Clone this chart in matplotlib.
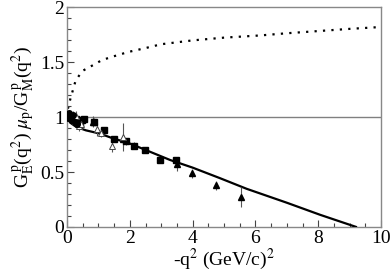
import matplotlib
matplotlib.use("Agg")
import matplotlib.pyplot as plt
import numpy as np
from matplotlib.ticker import MultipleLocator

plt.rcParams['font.family'] = ['Liberation Serif', 'DejaVu Serif']
plt.rcParams['mathtext.fontset'] = 'stix'

# model curves
fit_q2 = [0.0, 0.1, 0.3, 0.6, 1.05, 1.43, 2.0, 3.28, 4.0, 4.87, 5.72, 7.0, 8.06, 9.2]
fit_r = [1.0, 0.95, 0.91, 0.88, 0.85, 0.81, 0.76, 0.61, 0.54, 0.444, 0.347, 0.22, 0.11, 0.0]

dot_q2 = [0.0, 0.03, 0.1, 0.27, 0.48, 0.8, 1.11, 1.43, 1.96, 2.5, 3.0, 4.0, 5.0, 6.15, 7.0, 8.0, 9.0, 10.0]
dot_r = [1.0, 1.08, 1.16, 1.33, 1.42, 1.47, 1.52, 1.55, 1.595, 1.63, 1.665, 1.70, 1.725, 1.745, 1.765, 1.785, 1.805, 1.822]

# data sets
sq_q2 = [0.3, 0.4, 0.48, 0.55, 0.85, 1.18, 1.5, 1.88, 2.13, 2.47, 2.97, 3.47]
sq_r = [0.98, 0.95, 0.97, 0.98, 0.96, 0.88, 0.80, 0.78, 0.74, 0.70, 0.61, 0.61]
sq_err = [0.03, 0.03, 0.03, 0.02, 0.03, 0.03, 0.03, 0.03, 0.03, 0.02, 0.03, 0.03]

tri_q2 = [0.82, 1.77, 3.5, 3.97, 4.75, 5.54]
tri_r = [0.96, 0.80, 0.57, 0.49, 0.38, 0.27]
tri_err = [0.05, 0.05, 0.06, 0.04, 0.04, 0.09]

otri_q2 = [0.2, 0.3, 0.38, 0.45, 0.95, 1.07, 1.42, 1.77]
otri_r = [0.99, 1.01, 0.92, 0.94, 0.89, 0.86, 0.74, 0.82]
otri_err = [0.04, 0.05, 0.05, 0.04, 0.06, 0.04, 0.06, 0.13]

circ_q2 = [0.02, 0.05, 0.1, 0.15, 0.2, 0.25, 0.33]
circ_r = [0.99, 1.04, 1.0, 0.97, 1.02, 0.96, 0.94]
circ_err = [0.02, 0.02, 0.03, 0.03, 0.04, 0.04, 0.04]

fig = plt.figure(figsize=(3.92, 2.77), dpi=100)
ax = fig.add_axes([0.171, 0.181, 0.801, 0.792])

ax.axhline(1.0, color='#808080', lw=1.0, zorder=1)
ax.plot(dot_q2, dot_r, color='black', lw=1.6, linestyle=(0, (1, 2.8)), dash_capstyle='butt')
ax.plot(fit_q2, fit_r, color='black', lw=1.6, zorder=3)

ebkw = dict(ecolor='#555555', elinewidth=0.8, capsize=0, linestyle='none', zorder=4)
ax.errorbar(sq_q2, sq_r, yerr=sq_err, marker='s', ms=4.5, mfc='black', mec='black', **ebkw)
ax.errorbar(tri_q2, tri_r, yerr=tri_err, marker='^', ms=5, mfc='black', mec='black', **ebkw)
ax.errorbar(otri_q2, otri_r, yerr=otri_err, marker='^', ms=5, mfc='white', mec='#444444', mew=0.7, **ebkw)
ax.errorbar(circ_q2, circ_r, yerr=circ_err, marker='o', ms=4, mfc='black', mec='black', **ebkw)

ax.set_xlim(0, 10)
ax.set_ylim(0, 2)
ax.xaxis.set_major_locator(MultipleLocator(2))
ax.xaxis.set_minor_locator(MultipleLocator(0.5))
ax.yaxis.set_major_locator(MultipleLocator(0.5))
ax.yaxis.set_minor_locator(MultipleLocator(0.1))
ax.set_yticks([0, 0.5, 1, 1.5, 2])
ax.set_yticklabels(['0', '0.5', '1', '1.5', '2'])
ax.tick_params(which='both', direction='in', colors='#444444', labelcolor='black', labelsize=14, pad=2)
ax.tick_params(which='major', length=5, width=0.8)
ax.tick_params(which='minor', length=3, width=0.8)
for s in ax.spines.values():
    s.set_color('#888888')
    s.set_linewidth(1.0)

ax.set_xlabel(r'-q$^2$ (GeV/c)$^2$', fontsize=14, labelpad=0)
ax.set_ylabel(r'G$_\mathrm{E}^{\,\mathrm{p}}$(q$^2$) $\mu_\mathrm{p}$/G$_\mathrm{M}^{\,\mathrm{p}}$(q$^2$)',
              fontsize=14, labelpad=2)

fig.savefig('out.png', dpi=100)
